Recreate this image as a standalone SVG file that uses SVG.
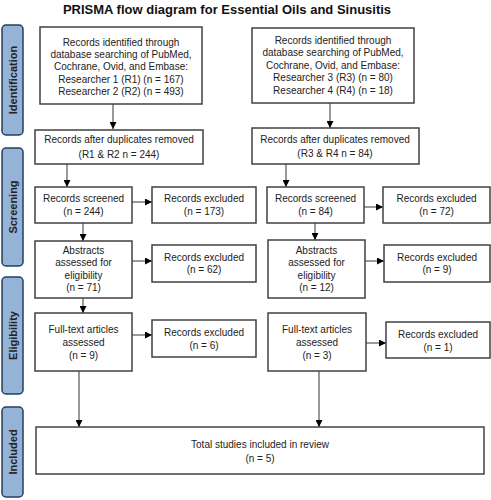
<svg xmlns="http://www.w3.org/2000/svg" width="491" height="500" viewBox="0 0 491 500">
<defs>
<marker id="ah" viewBox="0 0 10 10" refX="10" refY="5" markerWidth="7" markerHeight="7" markerUnits="userSpaceOnUse" orient="auto"><path d="M0,0 L10,5 L0,10 z" fill="#000"/></marker>
<style>
.box{fill:#fff;stroke:#404040;stroke-width:1.5}
.t{font-family:"Liberation Sans",Arial,sans-serif;font-size:10px;fill:#222;text-anchor:middle}
.side{fill:#95B3D7;stroke:#243F60;stroke-width:1.5}
.st{font-family:"Liberation Sans",Arial,sans-serif;font-size:11px;font-weight:bold;fill:#222;text-anchor:middle}
.c{stroke:#555;stroke-width:1.2;fill:none;marker-end:url(#ah)}
</style>
</defs>
<rect width="491" height="500" fill="#fff"/>
<text x="227" y="14" font-family="Liberation Sans,Arial,sans-serif" font-size="13" font-weight="bold" text-anchor="middle" fill="#111">PRISMA flow diagram for Essential Oils and Sinusitis</text>

<g id="side-identification"><rect class="side" x="2" y="25" width="21" height="110" rx="4"/><text class="st" transform="translate(16.5,80) rotate(-90)">Identification</text></g>
<g id="side-screening"><rect class="side" x="2" y="148" width="21" height="118" rx="4"/><text class="st" transform="translate(16.5,207) rotate(-90)">Screening</text></g>
<g id="side-eligibility"><rect class="side" x="2" y="277" width="21" height="117" rx="4"/><text class="st" transform="translate(16.5,335.5) rotate(-90)">Eligibility</text></g>
<g id="side-included"><rect class="side" x="2" y="407" width="21" height="90" rx="4"/><text class="st" transform="translate(16.5,452) rotate(-90)">Included</text></g>

<g id="connectors">
<line class="c" x1="113" y1="104" x2="113" y2="129"/>
<line class="c" x1="330" y1="103" x2="330" y2="128"/>
<line class="c" x1="67" y1="164" x2="67" y2="187"/>
<line class="c" x1="286" y1="164" x2="286" y2="187"/>
<line class="c" x1="132" y1="202" x2="152" y2="202"/>
<line class="c" x1="364" y1="207" x2="383" y2="207"/>
<line class="c" x1="83" y1="223" x2="83" y2="241"/>
<line class="c" x1="315" y1="223" x2="315" y2="240"/>
<line class="c" x1="132" y1="261" x2="152" y2="261"/>
<line class="c" x1="365" y1="261" x2="384" y2="261"/>
<line class="c" x1="83" y1="298" x2="83" y2="313"/>
<line class="c" x1="132" y1="335" x2="152" y2="335"/>
<line class="c" x1="366" y1="343" x2="386" y2="343"/>
<line class="c" x1="79" y1="371" x2="79" y2="427"/>
<line class="c" x1="319" y1="371" x2="319" y2="427"/>
</g>

<g id="id-left"><rect class="box" x="40" y="27" width="162" height="77"/>
<text class="t" x="121" y="45.5">Records identified through</text>
<text class="t" x="121" y="57.5">database searching of PubMed,</text>
<text class="t" x="121" y="70">Cochrane, Ovid, and Embase:</text>
<text class="t" x="121" y="82.5">Researcher 1 (R1) (n = 167)</text>
<text class="t" x="121" y="95">Researcher 2 (R2) (n = 493)</text></g>

<g id="id-right"><rect class="box" x="252" y="28" width="162" height="75"/>
<text class="t" x="333" y="44">Records identified through</text>
<text class="t" x="333" y="56">database searching of PubMed,</text>
<text class="t" x="333" y="68.5">Cochrane, Ovid, and Embase:</text>
<text class="t" x="333" y="81">Researcher 3 (R3) (n = 80)</text>
<text class="t" x="333" y="93.5">Researcher 4 (R4) (n = 18)</text></g>

<g id="dup-left"><rect class="box" x="35" y="130" width="168" height="34"/>
<text class="t" x="119" y="143">Records after duplicates removed</text>
<text class="t" x="119" y="157.5">(R1 &amp; R2 n = 244)</text></g>

<g id="dup-right"><rect class="box" x="252" y="128" width="167" height="36"/>
<text class="t" x="335" y="142.5">Records after duplicates removed</text>
<text class="t" x="335" y="156.5">(R3 &amp; R4 n = 84)</text></g>

<g id="screen-left"><rect class="box" x="35" y="187" width="97" height="36"/>
<text class="t" x="83.5" y="201.5">Records screened</text>
<text class="t" x="83.5" y="214.5">(n = 244)</text></g>

<g id="excl-173"><rect class="box" x="152" y="187" width="104" height="36"/>
<text class="t" x="204" y="201.5">Records excluded</text>
<text class="t" x="204" y="214.5">(n = 173)</text></g>

<g id="screen-right"><rect class="box" x="267" y="187" width="97" height="36"/>
<text class="t" x="315.5" y="201.5">Records screened</text>
<text class="t" x="315.5" y="214.5">(n = 84)</text></g>

<g id="excl-72"><rect class="box" x="383" y="187" width="107" height="36"/>
<text class="t" x="436.5" y="201.5">Records excluded</text>
<text class="t" x="436.5" y="214.5">(n = 72)</text></g>

<g id="abs-left"><rect class="box" x="35" y="241" width="97" height="57"/>
<text class="t" x="83.5" y="253.5">Abstracts</text>
<text class="t" x="83.5" y="265.5">assessed for</text>
<text class="t" x="83.5" y="278.5">eligibility</text>
<text class="t" x="83.5" y="290.5">(n = 71)</text></g>

<g id="excl-62"><rect class="box" x="152" y="245" width="104" height="37"/>
<text class="t" x="204" y="260.5">Records excluded</text>
<text class="t" x="204" y="272.5">(n = 62)</text></g>

<g id="abs-right"><rect class="box" x="268" y="240" width="97" height="58"/>
<text class="t" x="316.5" y="253.5">Abstracts</text>
<text class="t" x="316.5" y="265.5">assessed for</text>
<text class="t" x="316.5" y="278.5">eligibility</text>
<text class="t" x="316.5" y="290.5">(n = 12)</text></g>

<g id="excl-9"><rect class="box" x="384" y="245" width="106" height="37"/>
<text class="t" x="437" y="260.5">Records excluded</text>
<text class="t" x="437" y="272.5">(n = 9)</text></g>

<g id="full-left"><rect class="box" x="35" y="313" width="97" height="58"/>
<text class="t" x="83.5" y="332.5">Full-text articles</text>
<text class="t" x="83.5" y="345.5">assessed</text>
<text class="t" x="83.5" y="358.5">(n = 9)</text></g>

<g id="excl-6"><rect class="box" x="152" y="320" width="104" height="37"/>
<text class="t" x="204" y="335.5">Records excluded</text>
<text class="t" x="204" y="348.5">(n = 6)</text></g>

<g id="full-right"><rect class="box" x="268" y="313" width="98" height="58"/>
<text class="t" x="317" y="332.5">Full-text articles</text>
<text class="t" x="317" y="345.5">assessed</text>
<text class="t" x="317" y="358.5">(n = 3)</text></g>

<g id="excl-1"><rect class="box" x="386" y="322" width="104" height="36"/>
<text class="t" x="438" y="337.5">Records excluded</text>
<text class="t" x="438" y="350.5">(n = 1)</text></g>

<g id="total"><rect class="box" x="36" y="427" width="448" height="47"/>
<text class="t" x="260" y="447.5">Total studies included in review</text>
<text class="t" x="260" y="461.5">(n = 5)</text></g>
</svg>
